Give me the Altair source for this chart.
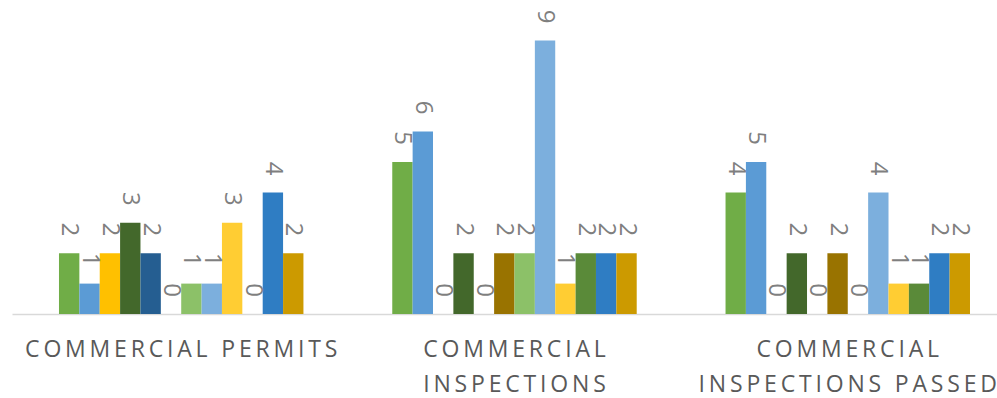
import altair as alt
import pandas as pd

# Categories on the x axis
categories = ["COMMERCIAL PERMITS", "COMMERCIAL INSPECTIONS", "COMMERCIAL INSPECTIONS PASSED"]

# Twelve series drawn side by side inside each category
series = [f"Series {i}" for i in range(1, 13)]

# Values per category, in series order
permits = [2, 1, 2, 3, 2, 0, 1, 1, 3, 0, 4, 2]
inspections = [5, 6, 0, 2, 0, 2, 2, 9, 1, 2, 2, 2]
inspections_passed = [4, 5, 0, 2, 0, 2, 0, 4, 1, 1, 2, 2]

# Office-style green / blue / gold palette with shade variants
colors = [
    "#70AD47", "#5B9BD5", "#FFC000",
    "#43682B", "#255E91", "#997300",
    "#8CC168", "#7CAFDD", "#FFCD33",
    "#5A8A39", "#2F7DC3", "#CC9A00",
]

rows = []
for cat, vals in zip(categories, [permits, inspections, inspections_passed]):
    for s, v in zip(series, vals):
        rows.append({"category": cat, "series": s, "value": v})
df = pd.DataFrame(rows)

# Tracked (letter-spaced) labels: a thin space between every character,
# and long labels wrapped after the first word.
THIN = "\u2009"


def spaced(expr):
    return f"join(split({expr}, ''), '{THIN}')"


first_word = "substring(datum.value, 0, indexof(datum.value, ' '))"
rest_words = "substring(datum.value, indexof(datum.value, ' ') + 1)"
label_expr = (
    f"length(datum.value) > 20 ? [{spaced(first_word)}, {spaced(rest_words)}] "
    f": {spaced('datum.value')}"
)

x_enc = alt.X(
    "category:N",
    sort=categories,
    scale=alt.Scale(paddingInner=0.2665, paddingOuter=0.111, align=0.635),
    axis=alt.Axis(
        title=None,
        labelAngle=0,
        labelExpr=label_expr,
        labelFont="Open Sans",
        labelFontSize=23,
        labelColor="#595959",
        labelLineHeight=35,
        labelPadding=24,
        labelLimit=500,
        ticks=False,
        domainColor="#D9D9D9",
        domainWidth=1.5,
        grid=False,
    ),
)
xoff_enc = alt.XOffset(
    "series:N", sort=series, scale=alt.Scale(paddingInner=0, paddingOuter=0)
)
y_enc = alt.Y("value:Q", scale=alt.Scale(domain=[0, 10]), axis=None)

base = alt.Chart(df).encode(x=x_enc, xOffset=xoff_enc, y=y_enc)

bars = base.mark_bar().encode(
    color=alt.Color("series:N", sort=series, scale=alt.Scale(domain=series, range=colors), legend=None)
)

labels = base.mark_text(
    angle=90,
    align="right",
    baseline="middle",
    dx=-17,
    font="Open Sans",
    fontSize=24,
    color="#7F7F7F",
).encode(text="value:Q")

chart = (
    alt.layer(bars, labels)
    .properties(
        width=985,
        height=304,
        padding={"left": 12, "top": 10, "right": 0, "bottom": 84},
        autosize=alt.AutoSizeParams(type="none"),
        background="white",
    )
    .configure_view(strokeWidth=0)
)

chart.save("out.html", embed_options={"renderer": "svg", "actions": False})
